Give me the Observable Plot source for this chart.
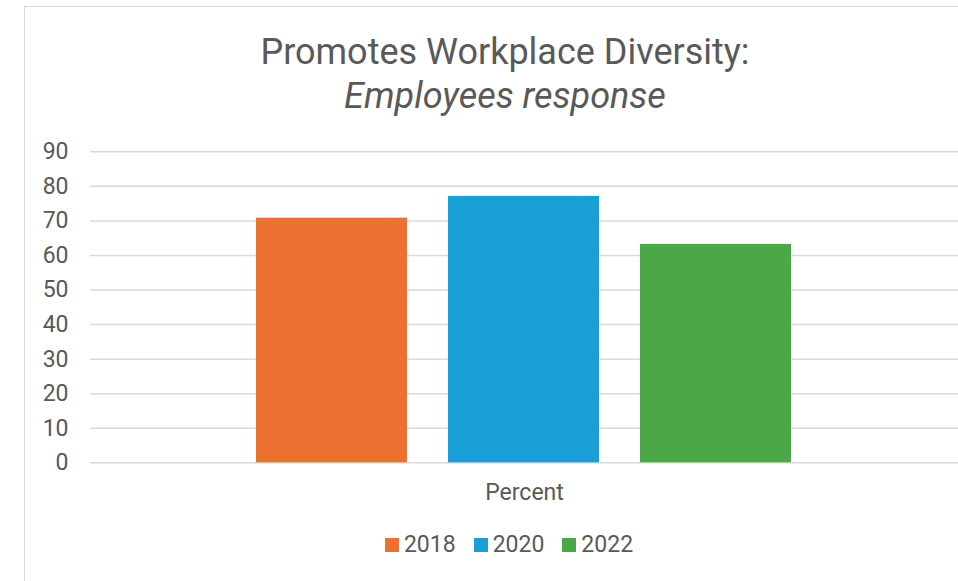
<!DOCTYPE html>
<html>
<head>
<meta charset="utf-8">
<script src="https://cdn.jsdelivr.net/npm/d3@7"></script>
<script src="https://cdn.jsdelivr.net/npm/@observablehq/plot@0.6"></script>
<style>
  html, body { margin: 0; padding: 0; background: #fff; }
  #wrap { position: relative; width: 958px; height: 581px; overflow: hidden; font-family: Roboto, "Open Sans", sans-serif; color: #595959; }
  #frame { position: absolute; left: 24px; top: 6px; width: 1000px; height: 700px; border: 1.5px solid #d9d9d9; box-sizing: border-box; }
  #title { position: absolute; left: 24px; width: 962px; top: 30px; text-align: center; font-size: 36px; line-height: 44px; color: #595959; }
  #title .sub { font-style: italic; }
  #chart { position: absolute; left: 0; top: 130px; }
  #legend { position: absolute; left: 28px; width: 962px; top: 530px; display: flex; justify-content: center; gap: 18px; font-size: 23px; line-height: 30px; }
  #legend .item { display: flex; align-items: center; gap: 5px; }
  #legend .sw { width: 14px; height: 14px; display: inline-block; }
</style>
</head>
<body>
<div id="wrap">
  <div id="frame"></div>
  <div id="title">Promotes Workplace Diversity:<br><span class="sub">Employees response</span></div>
  <div id="chart"></div>
  <div id="legend"></div>
</div>
<script>
const years = ["2018", "2020", "2022"];
const values = [70.8, 77.1, 63.2];
const colors = ["#EC7030", "#1A9ED6", "#4BA747"];
const category = "Percent";
const yTicks = [0, 10, 20, 30, 40, 50, 60, 70, 80, 90];

const data = years.map((y, i) => ({year: y, value: values[i], cat: category}));

const chart = Plot.plot({
  width: 958,
  height: 400,
  marginLeft: 90,
  marginRight: 0,
  marginTop: 21.3,
  marginBottom: 67.7,
  style: {fontFamily: "Roboto, 'Open Sans', sans-serif", color: "#595959", background: "transparent"},
  fx: {domain: [category], padding: 0},
  x: {domain: years, paddingInner: 0.2135, paddingOuter: 0.8646, axis: null},
  y: {domain: [0, 90]},
  color: {domain: years, range: colors},
  marks: [
    Plot.gridY(yTicks, {stroke: "#d9d9d9", strokeOpacity: 1, strokeWidth: 1.5}),
    Plot.axisY(yTicks, {tickSize: 0, tickPadding: 22, fontSize: 23, fill: "#595959", label: null}),
    Plot.axisFx({anchor: "bottom", tickSize: 0, tickPadding: 21, fontSize: 23, fill: "#595959", label: null}),
    Plot.barY(data, {fx: "cat", x: "year", y: "value", fill: "year"})
  ]
});
document.getElementById("chart").appendChild(chart);

const legend = document.getElementById("legend");
years.forEach((y, i) => {
  const item = document.createElement("div");
  item.className = "item";
  const sw = document.createElement("span");
  sw.className = "sw";
  sw.style.background = colors[i];
  const t = document.createElement("span");
  t.textContent = y;
  item.appendChild(sw);
  item.appendChild(t);
  legend.appendChild(item);
});
</script>
</body>
</html>
